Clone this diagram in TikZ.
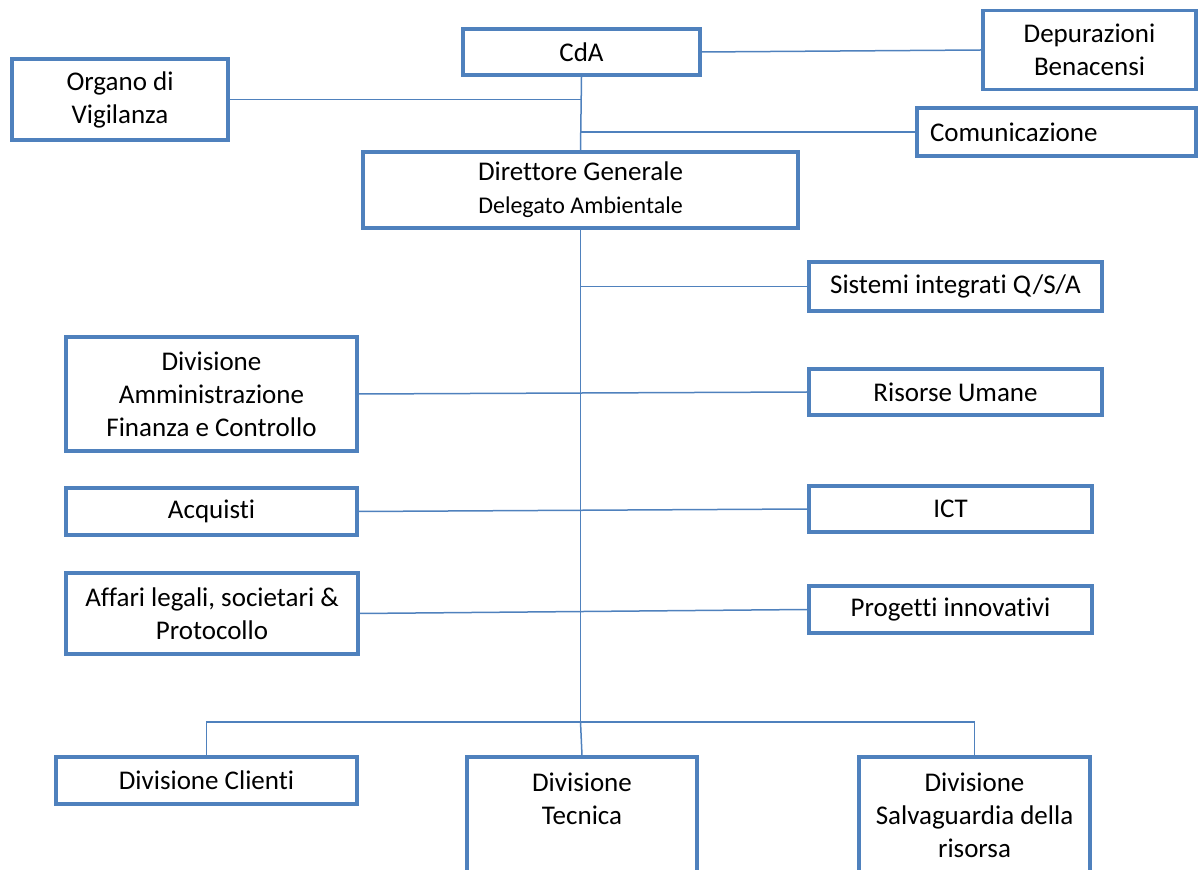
\documentclass[tikz,border=0pt]{standalone}
\usepackage{fontspec}
\setmainfont{Carlito}[RawFeature={-liga;-clig}]
\definecolor{orgblue}{HTML}{4F81BD}

\begin{document}
\begin{tikzpicture}[x=0.5pt,y=-0.5pt,
    orgbox/.style={draw=orgblue,line width=1.6pt,fill=white,align=center,inner sep=0pt,
        font=\fontsize{13.5}{16.5}\selectfont},
    link/.style={draw=orgblue,line width=0.75pt}]
    \useasboundingbox (0,0) rectangle (1198,870);

    % top level
    \node[orgbox,minimum width=118.5pt,minimum height=23pt] (cda) at (581.5,52) {CdA};
    \node[orgbox,minimum width=108pt,minimum height=40.5pt] (org) at (120,99.5) {Organo di\\Vigilanza};
    \node[orgbox,minimum width=106.5pt,minimum height=39.5pt] (dep) at (1089.5,50) {Depurazioni\\Benacensi};
    \node[orgbox,text width=126.5pt,inner xsep=6.5pt,align=left,minimum height=24pt] (com) at (1056.5,132) {Comunicazione};
    \node[orgbox,minimum width=217.5pt,minimum height=38pt] (dir) at (580.5,190)
        {Direttore Generale\\{\fontsize{12}{14}\selectfont Delegato Ambientale}};

    % staff
    \node[orgbox,minimum width=146.5pt,minimum height=24.5pt] (sis) at (955.5,286.5) {Sistemi integrati Q/S/A};
    \node[orgbox,minimum width=145.5pt,minimum height=57pt] (afc) at (211.5,394) {Divisione\\Amministrazione\\Finanza e Controllo};
    \node[orgbox,minimum width=146.5pt,minimum height=23pt] (ris) at (955.5,392) {Risorse Umane};
    \node[orgbox,minimum width=145.5pt,minimum height=23.5pt] (acq) at (211.5,511.5) {Acquisti};
    \node[orgbox,minimum width=141.5pt,minimum height=23pt] (ict) at (950.5,509) {ICT};
    \node[orgbox,minimum width=146pt,minimum height=40.5pt] (aff) at (212,613.5) {Affari legali, societari \&\\Protocollo};
    \node[orgbox,minimum width=141.5pt,minimum height=23.5pt] (prog) at (950.5,609.5) {Progetti innovativi};

    % divisions
    \node[orgbox,minimum width=150.5pt,minimum height=23.5pt] (cli) at (206.5,780.5) {Divisione Clienti};
    \node[orgbox,minimum width=115pt,minimum height=58pt] (tec) at (582,815) {Divisione\\Tecnica\\~};
    \node[orgbox,minimum width=115.5pt,minimum height=58pt] (salv) at (974.5,815) {Divisione\\Salvaguardia della\\risorsa};

    \coordinate (bus) at (580.5,722);

    % lines
    \draw[link] (cda.south) -- (dir.north);
    \draw[link] (org.east) -- (org.east -| cda.south);
    \draw[link] (cda.east) -- (dep.west);
    \draw[link] (dir.north |- com.west) -- (com.west);
    \draw[link] (dir.south) -- (bus);
    \draw[link] (dir.south |- sis.west) -- (sis.west);
    \draw[link] (afc.east) -- (ris.west);
    \draw[link] (acq.east) -- (ict.west);
    \draw[link] (aff.east) -- (prog.west);
    \draw[link] (cli.north) |- (bus) -| (salv.north);
    \draw[link] (bus) -- (tec.north);
\end{tikzpicture}
\end{document}
